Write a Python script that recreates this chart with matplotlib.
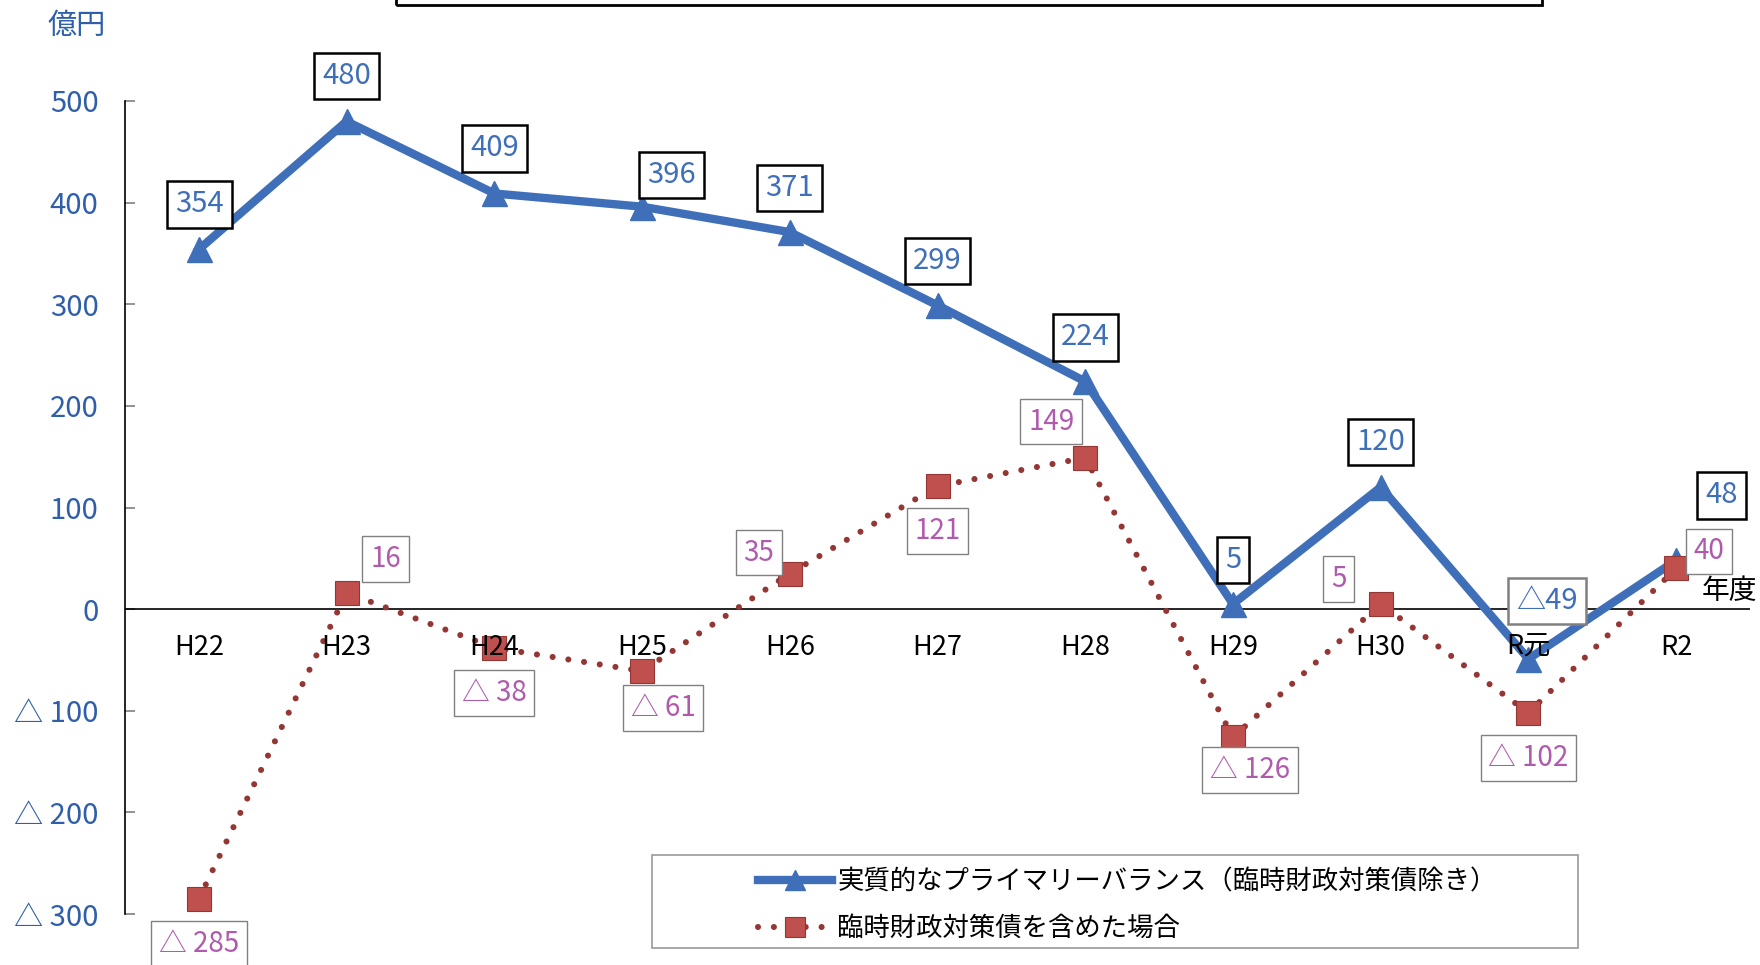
import matplotlib
matplotlib.use("Agg")
import matplotlib.pyplot as plt
from matplotlib.patches import Rectangle
from matplotlib.lines import Line2D

plt.rcParams['font.family'] = ['Noto Sans CJK JP', 'DejaVu Sans']

years = ['H22', 'H23', 'H24', 'H25', 'H26', 'H27', 'H28', 'H29', 'H30', 'R元', 'R2']
pb_real = [354, 480, 409, 396, 371, 299, 224, 5, 120, -49, 48]
pb_with_bonds = [-285, 16, -38, -61, 35, 121, 149, -126, 5, -102, 40]
y_ticks = [-300, -200, -100, 0, 100, 200, 300, 400, 500]

name_real = '実質的なプライマリーバランス（臨時財政対策債除き）'
name_bonds = '臨時財政対策債を含めた場合'

# label offsets from each point, in pixels
off_real = [(1, 45), (0, 45), (0, 45), (29, 32), (0, 44), (0, 44), (0, 44),
            (0, 44), (0, 45), (19, 58), (45, 65)]
off_bonds = [(0, -45), (39, 34), (0, -45), (21, -37), (-31, 21), (0, -45),
             (-34, 36), (17, -33), (-42, 25), (0, -45), (33, 17)]

BLUE = '#3F6FB8'
AXIS_BLUE = '#2F5FAA'
RED_LINE = '#943634'
RED_FILL = '#C0504D'
PINK = '#B05AAE'

W, H = 1760, 965
fig = plt.figure(figsize=(W / 100, H / 100), dpi=100)
ax = fig.add_axes([125 / W, 51 / H, 1625 / W, 813 / H])

x = list(range(len(years)))

ax.plot(x, pb_real, color=BLUE, lw=6, marker='^', ms=18,
        markerfacecolor=BLUE, markeredgecolor=BLUE, zorder=3,
        solid_joinstyle='miter')
ax.plot(x, pb_with_bonds, color=RED_LINE, lw=4.4, linestyle=(0, (0.001, 2.6)),
        dash_capstyle='round', marker='s', ms=17, markerfacecolor=RED_FILL,
        markeredgecolor=RED_LINE, markeredgewidth=0.8, zorder=4)

ax.axhline(0, color='black', lw=1.2, zorder=2)

ax.set_xlim(-0.5, len(years) - 0.5)
ax.set_ylim(-300, 500)
ax.set_xticks([])
ax.set_yticks(y_ticks)
ax.set_yticklabels([str(v) if v >= 0 else '△ ' + str(-v) for v in y_ticks],
                   color=AXIS_BLUE, fontsize=21)
ax.tick_params(axis='y', direction='in', length=7, width=1.2, color='#808080', pad=19)
for side in ['top', 'right', 'bottom']:
    ax.spines[side].set_visible(False)
ax.spines['left'].set_linewidth(1.2)

# category names sit just under the zero line
for i, name in enumerate(years):
    ax.annotate(name, (i, 0), xytext=(0, -38), textcoords='offset pixels',
                ha='center', va='center', fontsize=19.5, color='black', zorder=5)

for i, v in enumerate(pb_real):
    txt = str(v) if v >= 0 else '△' + str(-v)
    ec = 'black' if v >= 0 else '#808080'
    ax.annotate(txt, (i, v), xytext=off_real[i], textcoords='offset pixels',
                ha='center', va='center', fontsize=21, color=BLUE, zorder=6,
                bbox=dict(boxstyle='square,pad=0.28', fc='white', ec=ec, lw=1.8))

for i, v in enumerate(pb_with_bonds):
    txt = str(v) if v >= 0 else '△ ' + str(-v)
    ax.annotate(txt, (i, v), xytext=off_bonds[i], textcoords='offset pixels',
                ha='center', va='center', fontsize=20, color=PINK, zorder=6,
                bbox=dict(boxstyle='square,pad=0.28', fc='white', ec='#808080', lw=1))

fig.text(77 / W, 1 - 26 / H, '億円', color=AXIS_BLUE, fontsize=21,
         ha='center', va='center')
fig.text(1729 / W, 1 - 591 / H, '年度', color='black', fontsize=20,
         ha='center', va='center')

# title frame cut off at the top edge
fig.patches.append(Rectangle((396 / W, 1 - 5 / H), 1146 / W, 30 / H,
                             transform=fig.transFigure, fill=False,
                             ec='black', lw=2))

# legend frame
fig.patches.append(Rectangle((652 / W, 1 - 948 / H), 926 / W, 93 / H,
                             transform=fig.transFigure, fc='white',
                             ec='#9a9a9a', lw=1.2, zorder=7))
handles = [
    Line2D([], [], color=BLUE, lw=6, marker='^', ms=15, markerfacecolor=BLUE),
    Line2D([], [], color=RED_LINE, lw=4.4, linestyle=(0, (0.001, 2.6)),
           dash_capstyle='round', marker='s', ms=15, markerfacecolor=RED_FILL,
           markeredgecolor=RED_LINE, markeredgewidth=0.8),
]
leg = fig.legend(handles, [name_real, name_bonds], loc='center left',
                 bbox_to_anchor=(745 / W, 1 - 905 / H), frameon=False,
                 fontsize=19, handlelength=2.8, handletextpad=0.2,
                 labelspacing=0.75, numpoints=1, borderpad=0)
leg.set_zorder(8)

fig.savefig('out.png', dpi=100)
